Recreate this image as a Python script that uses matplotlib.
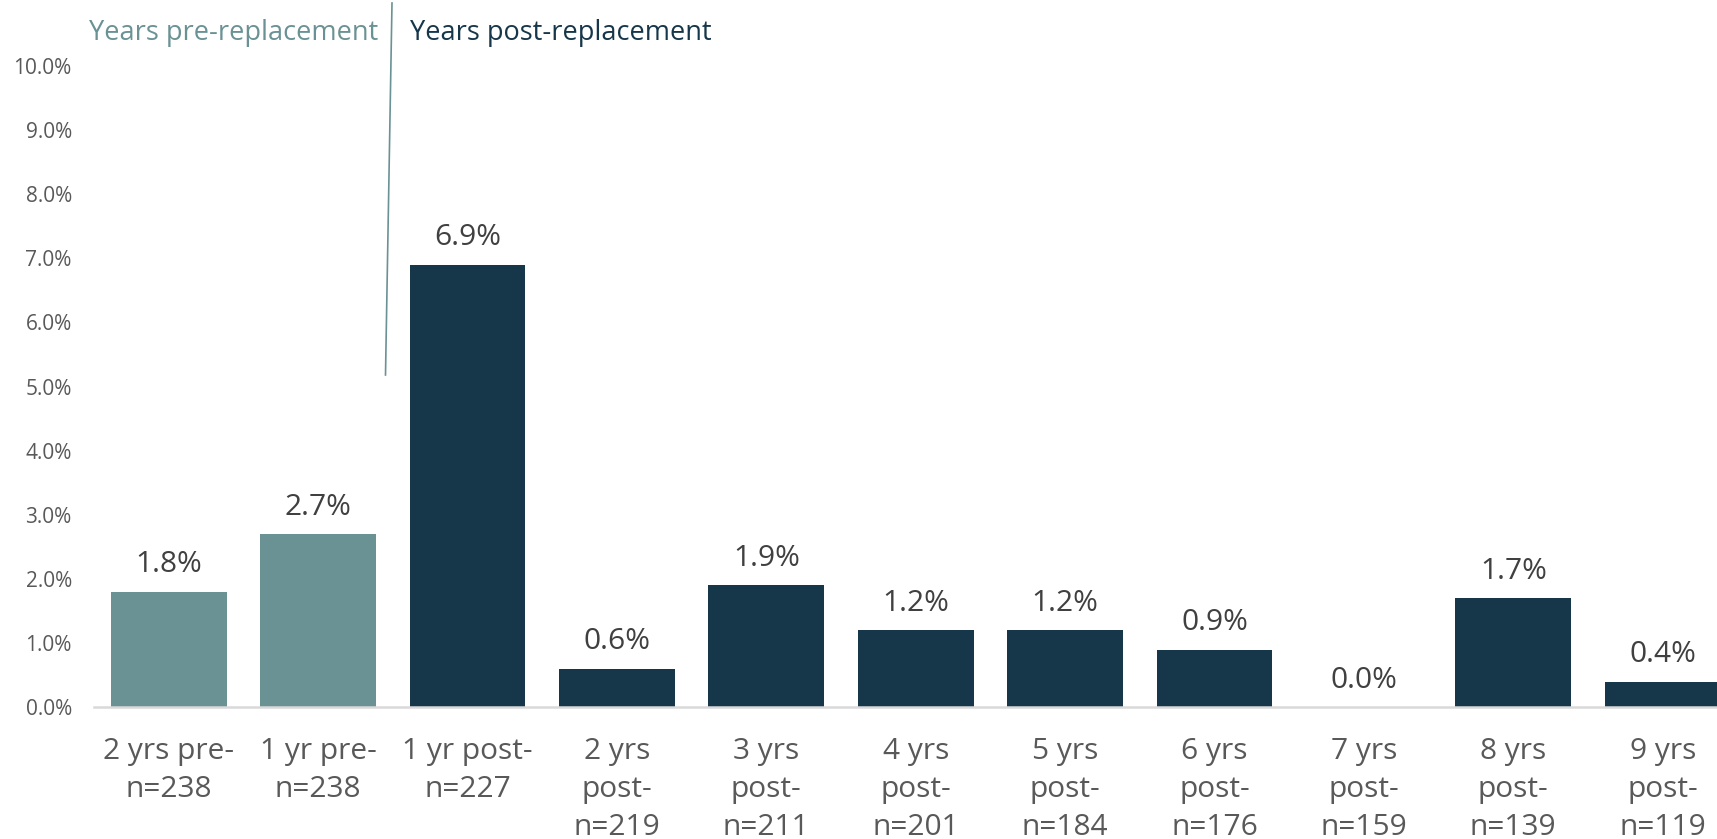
import matplotlib

matplotlib.use("Agg")
import matplotlib.pyplot as plt
from matplotlib.ticker import FuncFormatter

plt.rcParams["font.family"] = ["Open Sans", "DejaVu Sans"]

# ── data ──────────────────────────────────────────────
periods = ["2 yrs pre-", "1 yr pre-", "1 yr post-", "2 yrs\npost-", "3 yrs\npost-",
           "4 yrs\npost-", "5 yrs\npost-", "6 yrs\npost-", "7 yrs\npost-",
           "8 yrs\npost-", "9 yrs\npost-"]
n_counts = [238, 238, 227, 219, 211, 201, 184, 176, 159, 139, 119]
rates = [1.8, 2.7, 6.9, 0.6, 1.9, 1.2, 1.2, 0.9, 0.0, 1.7, 0.4]
phase = ["pre", "pre", "post", "post", "post", "post", "post", "post", "post", "post", "post"]

PRE_COLOR = "#6A9294"
POST_COLOR = "#16364A"
LABEL_COLOR = "#404040"
TICK_COLOR = "#595959"

W, H = 1717, 839
fig = plt.figure(figsize=(W / 100, H / 100), dpi=100)

# axes runs off the right edge so the last bar is clipped
spacing = 149.4
left_px = 94
right_px = W
x_max = -0.5 + (right_px - left_px) / spacing
ax = fig.add_axes([left_px / W, 1 - 707.4 / H, (right_px - left_px) / W, (707.4 - 65.7) / H])

x = list(range(len(periods)))
colors = [PRE_COLOR if p == "pre" else POST_COLOR for p in phase]
bars = ax.bar(x, rates, width=0.775, color=colors, zorder=2)

for xi, v in zip(x, rates):
    ax.annotate(f"{v:.1f}%", (xi, v), xytext=(0, 9), textcoords="offset points",
                ha="center", va="bottom", fontsize=21.5, color=LABEL_COLOR)

ax.set_xlim(-0.5, x_max)
ax.set_ylim(0, 10)
ax.set_yticks([i for i in range(11)])
ax.yaxis.set_major_formatter(FuncFormatter(lambda v, _: f"{v:.1f}%"))
ax.set_xticks(x)
ax.set_xticklabels([f"{p}\nn={n}" for p, n in zip(periods, n_counts)],
                   fontsize=21.5, color=TICK_COLOR, linespacing=1.42)
ax.tick_params(axis="y", length=0, labelsize=15, labelcolor=TICK_COLOR, pad=16)
ax.tick_params(axis="x", length=0, pad=21)

for side in ["top", "right", "left"]:
    ax.spines[side].set_visible(False)
ax.spines["bottom"].set_color("#D9D9D9")
ax.spines["bottom"].set_linewidth(1.8)

# pre / post headers with a divider line
fig.text(378 / W, 1 - 33 / H, "Years pre-replacement", ha="right", va="center",
         fontsize=19.5, color=PRE_COLOR)
fig.text(410 / W, 1 - 33 / H, "Years post-replacement", ha="left", va="center",
         fontsize=19.5, color=POST_COLOR)
fig.add_artist(plt.Line2D([392 / W, 385.5 / W], [1 - 3 / H, 1 - 375 / H],
                          color=PRE_COLOR, linewidth=1.2))

fig.savefig("out.png", dpi=100)
